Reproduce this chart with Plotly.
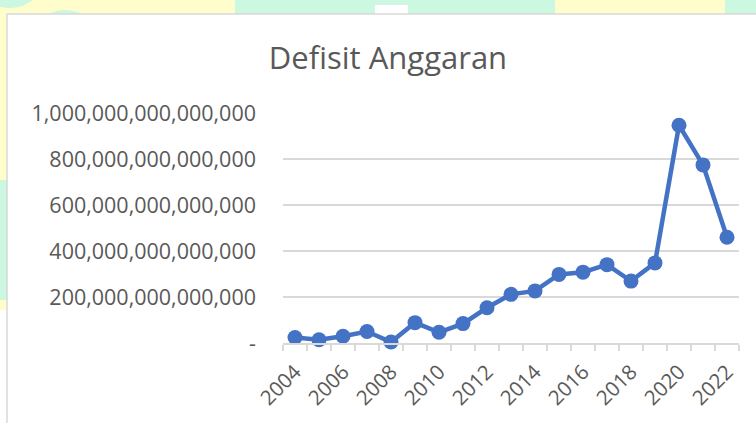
import plotly.graph_objects as go

# Defisit anggaran per tahun (Rupiah)
years = list(range(2004, 2023))
deficit = [
    23.8e12, 14.4e12, 29.1e12, 49.8e12, 4.1e12, 88.6e12, 46.8e12, 84.4e12,
    153.3e12, 211.7e12, 226.7e12, 298.5e12, 308.3e12, 341.0e12, 269.4e12,
    348.7e12, 947.7e12, 775.1e12, 460.4e12,
]
y_ticks = [0, 200e12, 400e12, 600e12, 800e12, 1000e12]
y_tick_labels = ["-", "200,000,000,000,000", "400,000,000,000,000",
                 "600,000,000,000,000", "800,000,000,000,000",
                 "1,000,000,000,000,000"]
x_ticks = list(range(2004, 2023, 2))

W, H = 756, 423
L, R, T, B = 283, 17, 113, 80
pw, ph = W - L - R, H - T - B


def px(x):
    return (x - L) / pw


def py(y):
    return (H - B - y) / ph


GRID = "#D9D9D9"
TEXT = "#595959"
YELLOW = "#FFFDCC"
MINT = "#CCF7E1"

fig = go.Figure()
fig.add_trace(go.Scatter(
    x=years, y=deficit, mode="lines+markers",
    line=dict(color="#4472C4", width=4.5),
    marker=dict(color="#4472C4", size=15),
    cliponaxis=False, showlegend=False,
))

shapes = [
    # watermark background strips
    dict(type="rect", x0=px(0), x1=px(W), y0=py(0), y1=py(14), fillcolor=YELLOW),
    dict(type="rect", x0=px(0), x1=px(7), y0=py(0), y1=py(310), fillcolor=YELLOW),
    dict(type="circle", x0=px(-20), x1=px(40), y0=py(-40), y1=py(8), fillcolor=MINT),
    dict(type="circle", x0=px(40), x1=px(90), y0=py(10), y1=py(40), fillcolor=MINT),
    dict(type="rect", x0=px(235), x1=px(555), y0=py(0), y1=py(14), fillcolor=MINT),
    dict(type="rect", x0=px(375), x1=px(408), y0=py(5), y1=py(14), fillcolor="white"),
    dict(type="rect", x0=px(725), x1=px(W), y0=py(0), y1=py(14), fillcolor=MINT),
    dict(type="rect", x0=px(0), x1=px(7), y0=py(180), y1=py(300), fillcolor=MINT),
    # chart area
    dict(type="rect", x0=px(7), x1=px(W + 5), y0=py(14), y1=py(H + 5),
         fillcolor="white", line=dict(color=GRID, width=1.5)),
]
for s in shapes:
    s.update(xref="paper", yref="paper", layer="below")
    s.setdefault("line", dict(width=0))

fig.update_layout(
    width=W, height=H,
    margin=dict(l=L, r=R, t=T, b=B, autoexpand=False),
    paper_bgcolor="white", plot_bgcolor="rgba(0,0,0,0)",
    shapes=shapes,
    font=dict(family="Open Sans", color=TEXT, size=20),
    title=dict(text="Defisit Anggaran", x=388 / W, xanchor="center",
               xref="container", yref="container", y=1 - 58 / H, yanchor="middle",
               font=dict(size=31, color=TEXT)),
    xaxis=dict(
        range=[2003.5, 2022.5], tickvals=x_ticks, tickangle=-45,
        ticks="", showgrid=False, zeroline=False, automargin=False,
        showline=True, linecolor=GRID, linewidth=1.5,
        minor=dict(tick0=2003.5, dtick=1, ticks="outside", ticklen=6,
                   tickcolor=GRID, tickwidth=1.5, showgrid=False),
        ticklabelstandoff=7,
        tickfont=dict(size=20.5, color=TEXT),
    ),
    yaxis=dict(
        range=[0, 1001e12], tickvals=y_ticks, ticktext=y_tick_labels,
        showgrid=True, gridcolor=GRID, gridwidth=1.5, zeroline=False,
        showline=False, ticks="", ticklabelstandoff=26, automargin=False,
        tickfont=dict(size=21.5, color=TEXT),
    ),
)

# the page's default body margin would shift the figure by 8px
fig.write_html("out.html", config={"displayModeBar": False},
               post_script="document.body.style.margin='0';")
